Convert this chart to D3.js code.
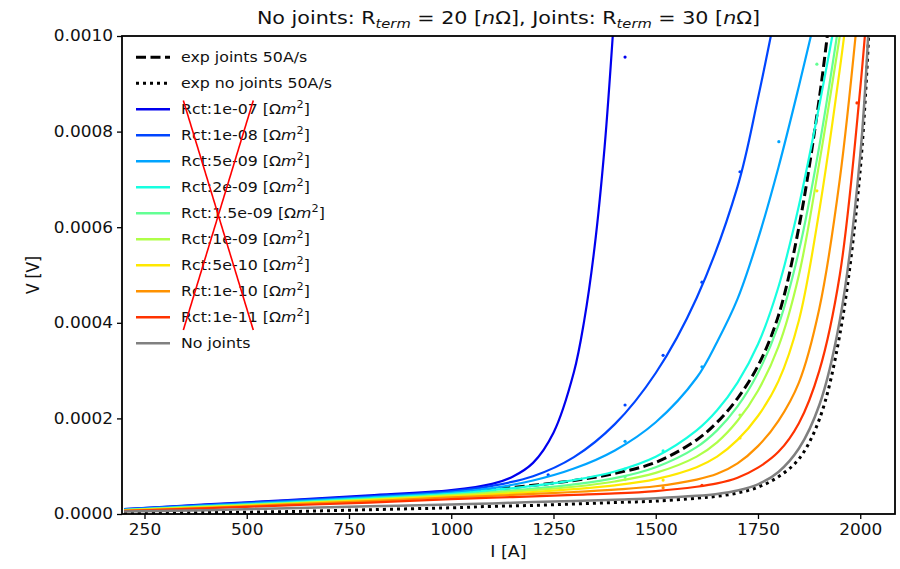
<!DOCTYPE html>
<html>
<head>
<meta charset="utf-8">
<script src="https://cdn.jsdelivr.net/npm/d3@7"></script>
<style>
  body { margin: 0; background: #fff; }
  text { font-family: "DejaVu Sans", sans-serif; fill: #111; }
</style>
</head>
<body>
<div id="chart"></div>
<script>
// values: [I (A), V (1e-4 V)]
const expJoints = [[200,0.08],[400,0.16],[600,0.24],[800,0.32],[1000,0.41],[1100,0.51],[1200,0.60],[1300,0.70],[1400,0.85],[1500,1.08],[1600,1.55],[1650,1.92],[1700,2.42],[1750,3.10],[1800,4.15],[1850,6.0],[1900,8.7],[1925,10.4]];
const expNoJoints = [[200,0.02],[400,0.03],[600,0.05],[800,0.09],[1000,0.13],[1100,0.16],[1200,0.18],[1300,0.21],[1400,0.24],[1500,0.27],[1600,0.33],[1650,0.37],[1700,0.44],[1750,0.56],[1800,0.78],[1850,1.15],[1900,1.98],[1950,3.75],[2000,7.2],[2025,10.8]];

const rct1e07 = [[200,0.10],[400,0.20],[600,0.29],[800,0.39],[1000,0.50],[1100,0.63],[1150,0.78],[1200,1.07],[1250,1.70],[1300,2.97],[1325,4.04],[1350,5.55],[1375,7.68],[1400,10.66]];
const rct1e08 = [[200,0.10],[400,0.19],[600,0.28],[800,0.37],[1000,0.48],[1100,0.59],[1200,0.79],[1300,1.19],[1400,1.88],[1500,2.95],[1600,4.52],[1700,6.85],[1750,8.7],[1800,10.8]];
const rct5e09 = [[200,0.09],[400,0.18],[600,0.26],[800,0.35],[1000,0.45],[1100,0.54],[1200,0.70],[1300,0.95],[1400,1.33],[1500,1.92],[1600,2.85],[1650,3.6],[1700,4.5],[1750,5.75],[1800,7.25],[1850,8.95],[1900,10.75]];
const rct2e09 = [[200,0.08],[400,0.16],[600,0.24],[800,0.33],[1000,0.42],[1100,0.50],[1200,0.59],[1300,0.71],[1400,0.89],[1500,1.20],[1600,1.75],[1650,2.17],[1700,2.75],[1750,3.55],[1800,4.75],[1850,6.45],[1900,8.55],[1950,10.85]];
const rct15e10 = [[200,0.08],[400,0.16],[600,0.23],[800,0.31],[1000,0.40],[1100,0.46],[1200,0.53],[1300,0.62],[1400,0.75],[1500,0.98],[1600,1.40],[1650,1.75],[1700,2.25],[1750,2.95],[1800,3.95],[1850,5.5],[1900,7.7],[1950,10.4]];
const rct1e09 = [[200,0.08],[400,0.15],[600,0.22],[800,0.30],[1000,0.39],[1100,0.44],[1200,0.50],[1300,0.57],[1400,0.68],[1500,0.86],[1600,1.20],[1650,1.50],[1700,1.95],[1750,2.58],[1800,3.5],[1850,5.0],[1900,7.35],[1950,10.0],[1975,11.4]];
const rct5e10 = [[200,0.07],[400,0.14],[600,0.21],[800,0.29],[1000,0.37],[1100,0.41],[1200,0.46],[1300,0.52],[1400,0.60],[1500,0.73],[1600,0.98],[1650,1.20],[1700,1.55],[1750,2.05],[1800,2.78],[1850,4.05],[1900,6.35],[1950,9.3],[1975,11.0]];
const rct1e10 = [[200,0.07],[400,0.13],[600,0.20],[800,0.27],[1000,0.35],[1100,0.38],[1200,0.42],[1300,0.46],[1400,0.51],[1500,0.58],[1600,0.72],[1650,0.84],[1700,1.06],[1750,1.42],[1800,1.95],[1850,2.75],[1900,4.3],[1950,7.0],[2000,11.0]];
const rct1e11 = [[200,0.06],[400,0.12],[600,0.18],[800,0.24],[1000,0.31],[1100,0.34],[1200,0.37],[1300,0.40],[1400,0.43],[1500,0.48],[1600,0.57],[1650,0.64],[1700,0.76],[1750,0.97],[1800,1.30],[1850,1.90],[1900,3.0],[1950,5.0],[2000,8.9],[2025,11.5]];
const noJoints = [[200,0.05],[400,0.08],[600,0.12],[800,0.16],[1000,0.20],[1100,0.22],[1200,0.25],[1300,0.27],[1400,0.30],[1500,0.33],[1600,0.38],[1650,0.42],[1700,0.49],[1750,0.62],[1800,0.88],[1850,1.37],[1900,2.28],[1950,4.05],[2000,7.5],[2025,11.0]];

// scattered simulation points visible next to the fitted curves
const dots1e07 = [[1425,9.56]];
const dots1e08 = [[1237,0.82],[1425,2.28],[1518,3.32],[1613,4.85],[1706,7.16]];
const dots5e09 = [[1425,1.52],[1613,3.08],[1801,7.79]];
const dots2e09 = [[1425,0.94],[1518,1.32]];
const dots15e10 = [[1894,9.41],[1425,0.78]];
const dots1e09 = [[1706,2.07],[1425,0.72]];
const dots5e10 = [[1894,6.76],[1706,1.59],[1518,0.71]];
const dots1e10 = [[1518,0.55]];
const dots1e11 = [[1992,8.6],[1613,0.6]];

const rctLabels = ['1e-07', '1e-08', '5e-09', '2e-09', '1.5e-09', '1e-09', '5e-10', '1e-10', '1e-11'];
const rctCurves = [rct1e07, rct1e08, rct5e09, rct2e09, rct15e10, rct1e09, rct5e10, rct1e10, rct1e11];
const rctDots = [dots1e07, dots1e08, dots5e09, dots2e09, dots15e10, dots1e09, dots5e10, dots1e10, dots1e11];
const rctColors = ['#0000ee', '#0045ff', '#00a4ff', '#17ffe0', '#63ff94', '#afff48', '#ffe800', '#ff9200', '#ff3300'];

const xTicks = [250, 500, 750, 1000, 1250, 1500, 1750, 2000];
const yTicks = [0, 0.0002, 0.0004, 0.0006, 0.0008, 0.001];
const VUNIT = 1e-4; // series above are in units of 1e-4 V

const W = 900, H = 569;
const SX = 1.13; // the reference text is a bit wider than tall

const x = d3.scaleLinear().domain([195, 2085]).range([122, 895]);
const y = d3.scaleLinear().domain([0, 0.001]).range([514, 36]);

const svg = d3.select('#chart').append('svg')
  .attr('width', W).attr('height', H);

svg.append('rect').attr('width', W).attr('height', H).attr('fill', '#fff');

svg.append('defs').append('clipPath').attr('id', 'clip')
  .append('rect')
  .attr('x', x.range()[0]).attr('y', y.range()[1])
  .attr('width', x.range()[1] - x.range()[0])
  .attr('height', y.range()[0] - y.range()[1]);

const plot = svg.append('g').attr('clip-path', 'url(#clip)');

const line = d3.line()
  .x(d => x(d[0]))
  .y(d => y(d[1] * VUNIT))
  .curve(d3.curveCatmullRom.alpha(0.5));

// experiments first, then simulations, as in the legend
plot.append('path').datum(expJoints)
  .attr('d', line).attr('fill', 'none')
  .attr('stroke', '#000').attr('stroke-width', 3)
  .attr('stroke-dasharray', '10,4.5');

plot.append('path').datum(expNoJoints)
  .attr('d', line).attr('fill', 'none')
  .attr('stroke', '#000').attr('stroke-width', 3)
  .attr('stroke-dasharray', '3,4');

rctCurves.forEach((c, i) => {
  plot.append('path').datum(c)
    .attr('d', line).attr('fill', 'none')
    .attr('stroke', rctColors[i]).attr('stroke-width', 2.2);
  plot.selectAll(null).data(rctDots[i]).join('circle')
    .attr('cx', d => x(d[0])).attr('cy', d => y(d[1] * VUNIT))
    .attr('r', 1.6).attr('fill', rctColors[i]);
});

plot.append('path').datum(noJoints)
  .attr('d', line).attr('fill', 'none')
  .attr('stroke', '#808080').attr('stroke-width', 2.5);

// axes
const gx = svg.append('g')
  .attr('transform', `translate(0,${y.range()[0]})`)
  .call(d3.axisBottom(x).tickValues(xTicks).tickSize(5).tickPadding(5).tickFormat(d3.format('d')));
gx.select('.domain').remove();
gx.selectAll('.tick line').attr('stroke', '#000').attr('stroke-width', 1.3);
gx.selectAll('.tick text')
  .attr('font-size', 15).attr('fill', '#111')
  .attr('font-family', '"DejaVu Sans", sans-serif')
  .attr('transform', `scale(${SX},1)`);

const gy = svg.append('g')
  .attr('transform', `translate(${x.range()[0]},0)`)
  .call(d3.axisLeft(y).tickValues(yTicks).tickSize(5).tickPadding(5).tickFormat(d3.format('.4f')));
gy.select('.domain').remove();
gy.selectAll('.tick line').attr('stroke', '#000').attr('stroke-width', 1.3);
gy.selectAll('.tick text')
  .attr('font-size', 15).attr('fill', '#111')
  .attr('font-family', '"DejaVu Sans", sans-serif')
  .attr('x', -9 / SX)
  .attr('transform', `scale(${SX},1)`);

svg.append('rect')
  .attr('x', x.range()[0]).attr('y', y.range()[1])
  .attr('width', x.range()[1] - x.range()[0])
  .attr('height', y.range()[0] - y.range()[1])
  .attr('fill', 'none').attr('stroke', '#000').attr('stroke-width', 1.8);

function stretched(px, py, size, anchor) {
  return svg.append('g').attr('transform', `translate(${px},${py}) scale(${SX},1)`)
    .append('text').attr('font-size', size).attr('text-anchor', anchor || 'start');
}

// axis labels
stretched((x.range()[0] + x.range()[1]) / 2, 557, 15.5, 'middle').text('I [A]');
svg.append('g').attr('transform', `translate(39,${(y.range()[0] + y.range()[1]) / 2}) rotate(-90) scale(1,${SX})`)
  .append('text').attr('font-size', 15.5).attr('text-anchor', 'middle').text('V [V]');

// title with subscripts
const title = stretched((x.range()[0] + x.range()[1]) / 2, 24, 18.3, 'middle');
function rterm(t) {
  t.append('tspan').text('R');
  t.append('tspan').attr('dy', 4).attr('font-size', 13).attr('font-style', 'italic').text('term');
  t.append('tspan').attr('dy', -4).text(' = ');
}
title.append('tspan').text('No joints: ');
rterm(title);
title.append('tspan').text('20 [');
title.append('tspan').attr('font-style', 'italic').text('n');
title.append('tspan').text('Ω], Joints: ');
rterm(title);
title.append('tspan').text('30 [');
title.append('tspan').attr('font-style', 'italic').text('n');
title.append('tspan').text('Ω]');

// legend
const legendItems = [
  { label: 'exp joints 50A/s', color: '#000', width: 3, dash: '10,4.5' },
  { label: 'exp no joints 50A/s', color: '#000', width: 3, dash: '3,4' },
  ...rctLabels.map((l, i) => ({ rct: l, color: rctColors[i], width: 2.5 })),
  { label: 'No joints', color: '#808080', width: 2.5 }
];
const ly0 = 57.3, lstep = 26;
legendItems.forEach((it, i) => {
  const yy = ly0 + i * lstep;
  svg.append('line')
    .attr('x1', 136).attr('x2', 170).attr('y1', yy).attr('y2', yy)
    .attr('stroke', it.color).attr('stroke-width', it.width)
    .attr('stroke-dasharray', it.dash || null);
  const t = stretched(181, yy + 5, 14);
  if (it.rct) {
    t.append('tspan').text(`Rct:${it.rct} [Ω`);
    t.append('tspan').attr('font-style', 'italic').text('m');
    t.append('tspan').attr('dy', -6).attr('font-size', 10).text('2');
    t.append('tspan').attr('dy', 6).text(']');
  } else {
    t.text(it.label);
  }
});

// red cross drawn over the Rct legend entries
const crossI = [345, 516];
const crossV = [8.65e-4, 3.85e-4];
[[0, 0, 1, 1], [1, 0, 0, 1]].forEach(([a, b, c, d]) => {
  svg.append('line')
    .attr('x1', x(crossI[a])).attr('y1', y(crossV[b]))
    .attr('x2', x(crossI[c])).attr('y2', y(crossV[d]))
    .attr('stroke', '#ff0000').attr('stroke-width', 1.6);
});
</script>
</body>
</html>
